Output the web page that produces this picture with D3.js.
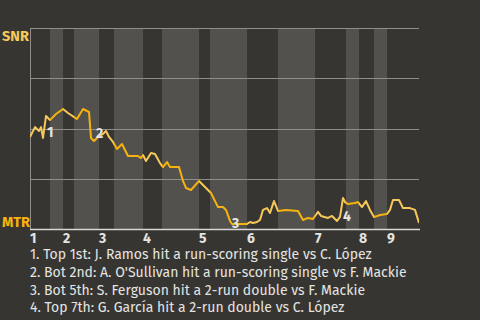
<!DOCTYPE html>
<html>
<head>
<meta charset="utf-8">
<script src="https://cdn.jsdelivr.net/npm/d3@7"></script>
<style>
  html, body { margin: 0; padding: 0; background: #363531; }
  svg { display: block; }
  text { font-family: "Fira Sans", "Open Sans", "Noto Sans", sans-serif; }
</style>
</head>
<body>
<svg id="chart" width="480" height="320"></svg>
<script>
// ---- data ----
const teams = ["SNR", "MTR"];
const halfInningStarts = [0, 20, 33, 44, 69, 84, 113, 132, 169, 180, 217, 248, 285, 316, 329, 344, 357];
const gameEnd = 389;
const inningLabels = ["1", "2", "3", "4", "5", "6", "7", "8", "9"];
const progress = [0, 5, 9, 11, 13, 16, 18, 20, 26, 33, 38, 41, 47, 53, 59, 61, 64, 68, 73, 76, 79, 83, 87, 92, 95, 98, 108, 111, 113, 116, 121, 125, 130, 133, 137, 140, 149, 153, 156, 161, 169, 175, 181, 188, 193, 196, 200, 202, 217, 220, 223, 227, 230, 233, 237, 240, 244, 248, 256, 268, 273, 278, 283, 288, 291, 298, 302, 307, 310, 313, 315, 318, 325, 328, 332, 336, 340, 344, 350, 357, 360, 363, 369, 373, 380, 385, 389];
const snrWinPct = [45.8, 50.7, 48.8, 50.7, 45.3, 56.2, 55.2, 54.2, 57.2, 59.7, 57.7, 56.7, 54.7, 59.7, 58.2, 45.3, 43.8, 45.8, 47.3, 48.8, 45.8, 43.3, 39.8, 42.3, 39.3, 36.3, 36.3, 35.3, 36.8, 33.8, 37.8, 37.3, 32.8, 30.8, 33.3, 30.8, 30.8, 23.9, 20.4, 19.4, 23.9, 20.9, 17.9, 10.9, 10.9, 9.5, 4.0, 2.5, 2.5, 3.5, 3.0, 3.5, 4.5, 9.5, 10.4, 8.0, 13.9, 9.0, 9.5, 9.0, 4.5, 5.5, 5.0, 8.5, 6.5, 5.5, 6.5, 4.0, 6.0, 15.4, 13.4, 12.4, 12.9, 13.4, 10.9, 13.9, 9.5, 6.0, 7.0, 7.5, 9.5, 14.4, 14.4, 10.4, 10.4, 9.5, 3.0];
const eventLabels = ["1", "2", "3", "4"];
const eventAt = [13, 64, 202, 310];
const eventTexts = [
  "1. Top 1st: J. Ramos hit a run-scoring single vs C. López",
  "2. Bot 2nd: A. O'Sullivan hit a run-scoring single vs F. Mackie",
  "3. Bot 5th: S. Ferguson hit a 2-run double vs F. Mackie",
  "4. Top 7th: G. García hit a 2-run double vs C. López"
];
const gridPct = [0, 25, 50, 75, 100];

// ---- layout / style ----
const plotLeft = 30, plotRight = 419, plotTop = 28, plotBottom = 229;
const colors = { bg: "#363531", band: "#52514e", grid: "#8f8e8a", axis: "#d8d8d6",
  snr: "#f6c85a", mtr: "#f6b20e", text: "#e4e4e2" };

const svg = d3.select("#chart");
const x = d3.scaleLinear().domain([0, gameEnd]).range([plotLeft, plotRight]);
const y = d3.scaleLinear().domain([0, 100]).range([plotBottom, plotTop]);

const halves = halfInningStarts.map((s, i) => ({
  start: s, end: i + 1 < halfInningStarts.length ? halfInningStarts[i + 1] : gameEnd, isTop: i % 2 === 0, i
}));

// bands
svg.append("g").selectAll("rect").data(halves.filter(h => !h.isTop)).join("rect")
  .attr("x", d => x(d.start)).attr("width", d => x(d.end) - x(d.start))
  .attr("y", y(100)).attr("height", y(0) - y(100))
  .attr("fill", colors.band);

// grid
svg.append("g").selectAll("line").data(gridPct.filter(p => p > 0)).join("line")
  .attr("x1", x(0)).attr("x2", x(gameEnd))
  .attr("y1", d => Math.round(y(d)) + 0.5).attr("y2", d => Math.round(y(d)) + 0.5)
  .attr("stroke", colors.grid).attr("stroke-width", 1);
svg.append("line").attr("x1", x(0) + 0.5).attr("x2", x(0) + 0.5)
  .attr("y1", y(100)).attr("y2", y(0))
  .attr("stroke", colors.grid).attr("stroke-width", 1);

// line, coloured by batting team per half-inning
const defs = svg.append("defs");
halves.forEach(h => {
  defs.append("clipPath").attr("id", "clip" + h.i).append("rect")
    .attr("x", x(h.start)).attr("width", x(h.end) - x(h.start))
    .attr("y", 0).attr("height", 320);
});
const pts = progress.map((p, i) => [p, snrWinPct[i]]);
const line = d3.line().x(d => x(d[0])).y(d => y(d[1]));
svg.append("g").selectAll("path").data(halves).join("path")
  .attr("d", line(pts))
  .attr("clip-path", d => `url(#clip${d.i})`)
  .attr("fill", "none")
  .attr("stroke", d => d.isTop ? colors.snr : colors.mtr)
  .attr("stroke-width", 2)
  .attr("stroke-linejoin", "round");

// x axis
svg.append("line").attr("x1", x(0)).attr("x2", x(gameEnd) + 1)
  .attr("y1", y(0) + 0.5).attr("y2", y(0) + 0.5)
  .attr("stroke", colors.axis).attr("stroke-width", 1.5);
svg.append("g").selectAll("text").data(inningLabels).join("text")
  .attr("x", (d, i) => x(halfInningStarts[i * 2]))
  .attr("y", 243)
  .attr("fill", colors.text).attr("font-size", 14).attr("font-weight", "bold")
  .text(d => d);

// team labels
svg.append("text").attr("x", 2).attr("y", 40.5).attr("fill", colors.snr)
  .attr("font-size", 14.5).attr("font-weight", "bold").text(teams[0]);
svg.append("text").attr("x", 2).attr("y", 226.5).attr("fill", colors.mtr)
  .attr("font-size", 14.5).attr("font-weight", "bold").text(teams[1]);

// event markers
const nudgeX = [4, 2, 0, 3];
const nudgeY = [-5, -7, 0, 0];
svg.append("g").selectAll("text").data(eventLabels).join("text")
  .attr("x", (d, i) => x(eventAt[i]) + nudgeX[i])
  .attr("y", (d, i) => y(snrWinPct[progress.indexOf(eventAt[i])]) + nudgeY[i])
  .attr("dominant-baseline", "central")
  .attr("fill", colors.text).attr("font-size", 14).attr("font-weight", "bold")
  .text(d => d);

// event descriptions
svg.append("g").selectAll("text").data(eventTexts).join("text")
  .attr("x", 30).attr("y", (d, i) => 259 + i * 17.8)
  .attr("fill", colors.text).attr("font-size", 14)
  .text(d => d);
</script>
</body>
</html>
